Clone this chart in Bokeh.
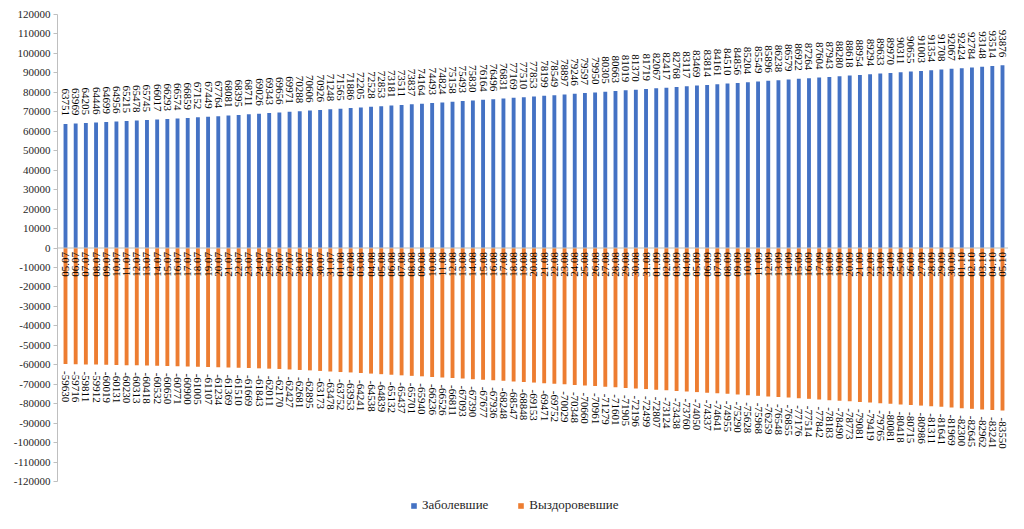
import math
from bokeh.plotting import figure
from bokeh.models import ColumnDataSource, Range1d, FixedTicker, NumeralTickFormatter, Span, Legend, LegendItem
from bokeh.core.properties import value
from bokeh.embed import file_html
from bokeh.resources import INLINE

dates = ([f"{d:02d}.07" for d in range(5, 32)] + [f"{d:02d}.08" for d in range(1, 32)]
         + [f"{d:02d}.09" for d in range(1, 31)] + [f"{d:02d}.10" for d in range(1, 6)])

sick = [63751, 63969, 64205, 64446, 64699, 64956, 65215, 65478, 65745, 66017, 66293, 66574, 66859, 67152, 67449, 67764,
        68081, 68395, 68711, 69026, 69343, 69656, 69971, 70288, 70606, 70926, 71248, 71565, 71886, 72205, 72528, 72853,
        73181, 73511, 73837, 74164, 74493, 74824, 75158, 75493, 75830, 76164, 76496, 76831, 77169, 77510, 77853,
        78199, 78549, 78897, 79246, 79597, 79950, 80305, 80663, 81019, 81370, 81719, 82067, 82417, 82768, 83117, 83469,
        83814, 84161, 84510, 84856, 85204, 85549, 85896, 86238, 86579, 86922, 87264, 87604, 87943, 88280, 88618, 88954,
        89294, 89633, 89970, 90311, 90655, 91003, 91354, 91708, 92067, 92424, 92784, 93148, 93514, 93876]

recovered = [-59630, -59716, -59811, -59912, -60019, -60131, -60230, -60313, -60418, -60532, -60650, -60771, -60900, -61005, -61107, -61234,
             -61369, -61510, -61669, -61843, -62011, -62170, -62427, -62681, -62895, -63173, -63478, -63752, -63953, -64241, -64538,
             -64839, -65132, -65437, -65701, -65940, -66236, -66526, -66811, -67093, -67390, -67677, -67936, -68248, -68547, -68848,
             -69153, -69471, -69752, -70029, -70348, -70660, -70961, -71279, -71601, -71905, -72196, -72499, -72807, -73124, -73438, -73760,
             -74050, -74337, -74641, -74955, -75290, -75628, -75968, -76259, -76548, -76855, -77176, -77514, -77842, -78183, -78490, -78773,
             -79081, -79419, -79765, -80081, -80418, -80715, -80986, -81311, -81641, -81969, -82300, -82645, -82962, -83241, -83550]

y_ticks = list(range(-120000, 120001, 10000))

idx = list(range(len(dates)))
src = ColumnDataSource(dict(x=idx, sick=sick, rec=recovered, date=dates,
                            sick_lbl=[str(v) for v in sick], rec_lbl=[str(v) for v in recovered],
                            zero=[0] * len(idx)))

# frame spans from y=14 to y=513; ±120000 occupies 467 px, extra room below holds the legend
y_span = 240000 * (513 - 14) / 467.0
p = figure(width=1008, height=513, output_backend="svg", toolbar_location=None,
           x_range=Range1d(-0.785, 92.589), y_range=Range1d(120000 - y_span, 120000),
           min_border_left=57, min_border_right=0, min_border_top=14, min_border_bottom=0)
p.outline_line_color = None
p.xgrid.visible = False
p.ygrid.visible = False
p.xaxis.visible = False

ya = p.yaxis[0]
ya.bounds = (-120000, 120000)
ya.ticker = FixedTicker(ticks=y_ticks)
ya.formatter = NumeralTickFormatter(format="0")
ya.axis_line_color = "#BFBFBF"
ya.major_tick_line_color = "#BFBFBF"
ya.major_tick_out = 4
ya.major_tick_in = 0
ya.minor_tick_line_color = None
ya.major_label_standoff = 3
ya.major_label_text_font = "Liberation Serif"
ya.major_label_text_font_size = "11px"
ya.major_label_text_color = "#262626"

p.add_layout(Span(location=0, dimension="width", line_color="#BFBFBF", line_width=1))

r1 = p.vbar(x="x", top="sick", bottom=0, width=0.38, source=src, fill_color="#4472C4", line_color=None)
r2 = p.vbar(x="x", top="rec", bottom=0, width=0.38, source=src, fill_color="#ED7D31", line_color=None)

font = value("Liberation Serif")
p.text(x="x", y="sick", text="sick_lbl", source=src, angle=-math.pi / 2, text_align="right",
       text_baseline="middle", y_offset=-8, text_font=font, text_font_size="11px", text_color="#000000")
p.text(x="x", y="rec", text="rec_lbl", source=src, angle=-math.pi / 2, text_align="left",
       text_baseline="middle", y_offset=7, text_font=font, text_font_size="11px", text_color="#000000")
p.text(x="x", y="zero", text="date", source=src, angle=math.pi / 2, text_align="right",
       text_baseline="middle", y_offset=4, text_font=font, text_font_size="11px", text_color="#000000")

legend = Legend(items=[LegendItem(label="Заболевшие", renderers=[r1]),
                       LegendItem(label="Выздоровевшие", renderers=[r2])],
                orientation="horizontal", location=(353, 0))
legend.border_line_color = None
legend.background_fill_alpha = 0
legend.padding = 0
legend.margin = 0
legend.spacing = 29
legend.glyph_width = 7
legend.glyph_height = 7
legend.label_standoff = 5
legend.label_text_font = "Liberation Serif"
legend.label_text_font_size = "13px"
legend.label_text_color = "#262626"
p.add_layout(legend, "center")

open("out.html", "w").write(file_html(p, INLINE))
